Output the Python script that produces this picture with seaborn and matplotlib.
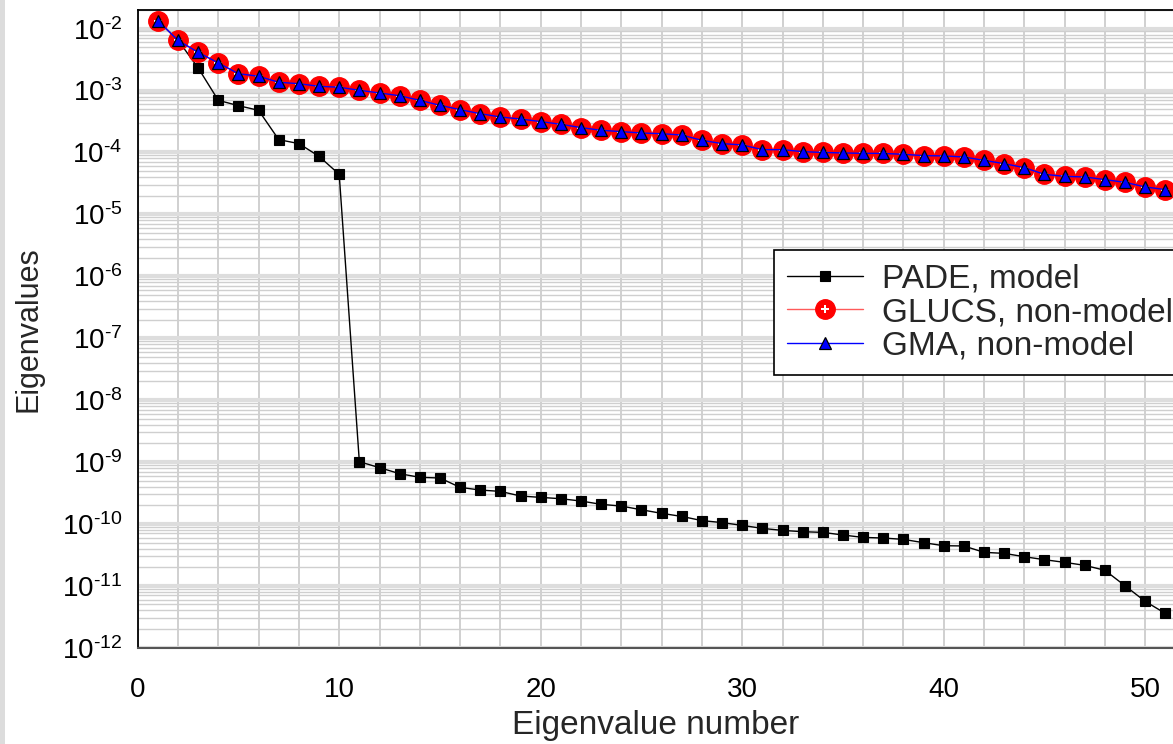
import numpy as np
import pandas as pd
import matplotlib
matplotlib.use("Agg")
import matplotlib.pyplot as plt
import matplotlib.ticker as mticker
from matplotlib.legend_handler import HandlerTuple
from matplotlib.patches import Rectangle
import seaborn as sns

# ---- data ----
eig_number = list(range(1, 52))

pade_model = [
    1.35e-2, 6.5e-3, 2.32e-3, 6.95e-4, 5.70e-4, 4.79e-4, 1.61e-4, 1.39e-4, 8.65e-5, 4.43e-5,
    1.01e-9, 8.1e-10, 6.47e-10, 5.65e-10, 5.51e-10, 3.89e-10, 3.52e-10, 3.35e-10, 2.82e-10, 2.68e-10,
    2.55e-10, 2.34e-10, 2.07e-10, 1.94e-10, 1.69e-10, 1.48e-10, 1.32e-10, 1.13e-10, 1.05e-10, 9.46e-11,
    8.46e-11, 7.85e-11, 7.48e-11, 7.29e-11, 6.61e-11, 6.05e-11, 5.91e-11, 5.62e-11, 4.97e-11, 4.44e-11,
    4.40e-11, 3.47e-11, 3.34e-11, 2.95e-11, 2.64e-11, 2.39e-11, 2.14e-11, 1.78e-11, 1.00e-11, 5.6e-12,
    3.58e-12,
]

glucs_nonmodel = [
    1.345e-2, 6.47e-3, 4.14e-3, 2.79e-3, 1.87e-3, 1.70e-3, 1.36e-3, 1.29e-3, 1.17e-3, 1.13e-3,
    1.01e-3, 9.14e-4, 8.24e-4, 6.95e-4, 5.77e-4, 4.91e-4, 4.23e-4, 3.74e-4, 3.47e-4, 3.15e-4,
    2.85e-4, 2.52e-4, 2.28e-4, 2.17e-4, 2.06e-4, 2.01e-4, 1.91e-4, 1.57e-4, 1.39e-4, 1.32e-4,
    1.11e-4, 1.11e-4, 1.03e-4, 1.00e-4, 9.81e-5, 9.68e-5, 9.65e-5, 9.33e-5, 8.88e-5, 8.80e-5,
    8.45e-5, 7.45e-5, 6.59e-5, 5.68e-5, 4.43e-5, 4.11e-5, 4.02e-5, 3.64e-5, 3.29e-5, 2.77e-5,
    2.51e-5,
]

gma_nonmodel = list(glucs_nonmodel)

series_labels = ["PADE, model", "GLUCS, non-model", "GMA, non-model"]
x_ticks = [0, 10, 20, 30, 40, 50]
y_decades = list(range(-12, -1))

# ---- styling ----
sns.set_theme(style="white")
plt.rcParams["font.family"] = ["Liberation Sans", "DejaVu Sans"]
plt.rcParams["mathtext.fontset"] = "custom"
plt.rcParams["mathtext.rm"] = "Liberation Sans"
plt.rcParams["mathtext.it"] = "Liberation Sans"
plt.rcParams["mathtext.default"] = "regular"

W, H = 1173, 744
fig = plt.figure(figsize=(W / 100, H / 100), dpi=100)
fig.patch.set_facecolor("white")
fig.add_artist(Rectangle((0, 0), 5 / W, 1, transform=fig.transFigure,
                         facecolor="#dcdcdc", edgecolor="none", zorder=0))

x0, x1 = 137.7, 1173
y_bot, y_top = 647.7, 10
ax = fig.add_axes([x0 / W, (H - y_bot) / H, (x1 - x0) / W, (y_bot - y_top) / H])
ax.set_facecolor("white")

df = pd.DataFrame({
    "n": eig_number,
    "pade": pade_model,
    "glucs": glucs_nonmodel,
    "gma": gma_nonmodel,
})

sns.lineplot(data=df, x="n", y="pade", ax=ax, color="black", lw=1.0,
             marker="s", markersize=6.5, markerfacecolor="black",
             markeredgecolor="black", markeredgewidth=0.8, zorder=3)
sns.lineplot(data=df, x="n", y="glucs", ax=ax, color="#ff5a5a", lw=1.0,
             marker="o", markersize=14, markerfacecolor="#ff0000",
             markeredgecolor="#ff0000", markeredgewidth=1.0, zorder=4)
# white plus inside GLUCS circles
sns.lineplot(data=df, x="n", y="glucs", ax=ax, color="white", lw=0,
             marker="P", markersize=6, markerfacecolor="white",
             markeredgecolor="white", markeredgewidth=0, zorder=4.5)
sns.lineplot(data=df, x="n", y="gma", ax=ax, color="#0000ff", lw=1.0,
             marker="^", markersize=8.5, markerfacecolor="#0000ff",
             markeredgecolor="black", markeredgewidth=0.9, zorder=5)

lines = ax.get_lines()
pade_line, glucs_line, plus_line, gma_line = lines[0], lines[1], lines[2], lines[3]

ax.set_yscale("log")
ax.set_xlim(0, (x1 - x0) / 20.15)
ax.set_ylim(1e-12, 2e-2)

# ticks
ax.xaxis.set_major_locator(mticker.FixedLocator(x_ticks))
ax.xaxis.set_minor_locator(mticker.MultipleLocator(2))
ax.yaxis.set_major_locator(mticker.FixedLocator([10.0 ** d for d in y_decades]))
ax.yaxis.set_major_formatter(mticker.FuncFormatter(
    lambda v, p: r"$10^{\text{-}%d}$" % abs(round(np.log10(v)))))
ax.yaxis.set_minor_locator(mticker.LogLocator(base=10, subs=np.arange(2, 10), numticks=100))
ax.yaxis.set_minor_formatter(mticker.NullFormatter())

ax.tick_params(axis="x", which="major", direction="out", length=5, width=1,
               color="#333333", labelsize=20, pad=16, colors="black")
ax.tick_params(axis="y", which="major", direction="out", length=7, width=1,
               color="#333333", labelsize=20, pad=4, colors="black")
ax.tick_params(which="minor", length=0)

# grid
ax.grid(False)
ax.xaxis.grid(True, which="both", color="#c8c8c8", lw=1.2, zorder=0)
ax.yaxis.grid(True, which="minor", color="#cfcfcf", lw=1.0, zorder=0)
ax.yaxis.grid(True, which="major", color="#dddddd", lw=3.0, zorder=0)
ax.set_axisbelow(True)

# spines
for s in ["left", "top"]:
    ax.spines[s].set_visible(True)
    ax.spines[s].set_color("black")
    ax.spines[s].set_linewidth(1.3)
ax.spines["bottom"].set_visible(True)
ax.spines["bottom"].set_color("#555555")
ax.spines["bottom"].set_linewidth(1.5)
ax.spines["right"].set_visible(False)

ax.set_xlabel("Eigenvalue number", fontsize=24, labelpad=5)
ax.set_ylabel("Eigenvalues", fontsize=22)
ax.yaxis.set_label_coords((43 - x0) / (x1 - x0), 0.5)

# legend
leg = ax.legend(handles=[pade_line, (glucs_line, plus_line), gma_line],
                labels=series_labels,
                handler_map={tuple: HandlerTuple(ndivide=1)},
                loc="upper left", bbox_to_anchor=(774 / W, (H - 250) / H),
                bbox_transform=fig.transFigure, borderaxespad=0,
                fontsize=24, frameon=True, fancybox=False, shadow=False,
                framealpha=1, edgecolor="black", handlelength=2.28,
                handletextpad=0.55, labelspacing=0.08, borderpad=0.4)
leg.get_frame().set_linewidth(1.2)
leg.set_zorder(10)

fig.savefig("out.png", dpi=100)
